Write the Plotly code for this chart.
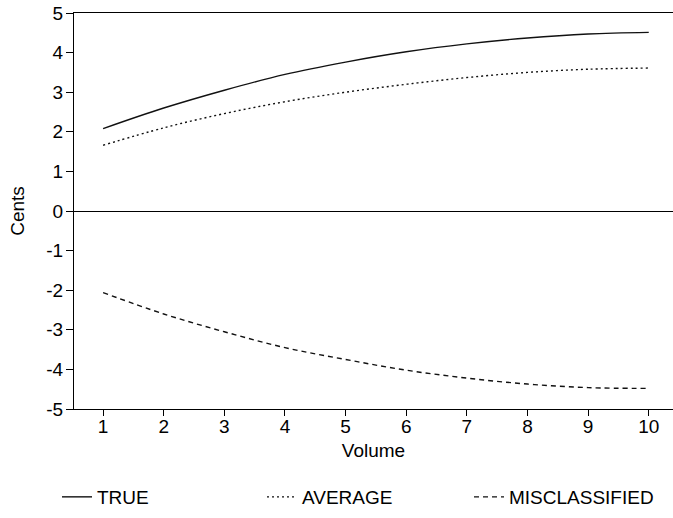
import plotly.graph_objects as go

volume = [1, 2, 3, 4, 5, 6, 7, 8, 9, 10]
true_vals = [2.08, 2.6, 3.05, 3.45, 3.76, 4.02, 4.22, 4.37, 4.47, 4.51]
average_vals = [1.66, 2.1, 2.46, 2.76, 3.0, 3.2, 3.37, 3.5, 3.58, 3.61]
miscl_vals = [-2.06, -2.6, -3.05, -3.45, -3.75, -4.02, -4.22, -4.37, -4.46, -4.48]
y_ticks = [5, 4, 3, 2, 1, 0, -1, -2, -3, -4, -5]
y_ticklabels = ["5", "4", "3", "2", "1", "0", "-1", "-2", "-3", "-4", "-5"]

font = dict(family="Liberation Sans, Arial, sans-serif", size=19, color="#000")

fig = go.Figure()
fig.add_trace(go.Scatter(x=volume, y=true_vals, mode="lines", name="TRUE",
                         line=dict(color="#111", width=1.4, shape="spline", dash="solid"),
                         legend="legend", showlegend=True))
fig.add_trace(go.Scatter(x=volume, y=average_vals, mode="lines", name="AVERAGE",
                         line=dict(color="#111", width=1.4, shape="spline", dash="2px,3px"),
                         legend="legend2", showlegend=True))
fig.add_trace(go.Scatter(x=volume, y=miscl_vals, mode="lines", name="MISCLASSIFIED",
                         line=dict(color="#111", width=1.4, shape="spline", dash="5px,4px"),
                         legend="legend3", showlegend=True))

leg_common = dict(orientation="h", yanchor="middle", y=1 - 497 / 518, xanchor="left",
                  xref="container", yref="container",
                  font=font, bgcolor="rgba(0,0,0,0)")
fig.update_layout(
    width=673, height=518,
    showlegend=True,
    margin=dict(l=74, r=0, t=13, b=109),
    paper_bgcolor="white", plot_bgcolor="white",
    font=font,
    legend=dict(x=57 / 673, **leg_common),
    legend2=dict(x=262 / 673, **leg_common),
    legend3=dict(x=469 / 673, **leg_common),
    xaxis=dict(range=[0.52, 10.4], tickvals=volume, ticks="outside", ticklen=6,
               tickcolor="#000", showline=True, linecolor="#000", linewidth=1,
               mirror=True, showgrid=False, zeroline=False, automargin=False,
               ticklabelstandoff=-6,
               title=dict(text="Volume", font=font, standoff=7)),
    yaxis=dict(range=[-5, 5], tickvals=y_ticks, ticktext=y_ticklabels,
               ticks="outside", ticklen=7,
               tickcolor="#000", showline=True, linecolor="#000", linewidth=1,
               showgrid=False, zeroline=True, zerolinecolor="#000", zerolinewidth=1,
               automargin=False, ticklabelstandoff=-1,
               title=dict(text="Cents", font=font, standoff=16)),
)
fig.write_html("out.html", config={"displayModeBar": False},
               post_script="document.body.style.margin='0';document.body.style.overflow='hidden';")
